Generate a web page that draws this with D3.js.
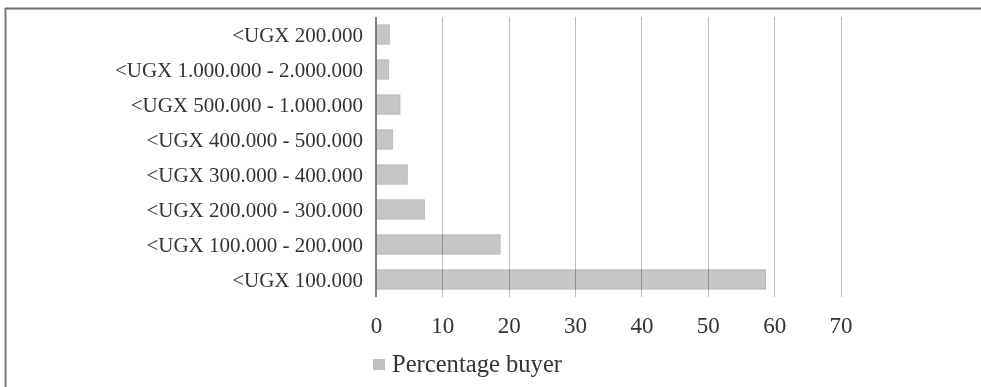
<!DOCTYPE html>
<html>
<head>
<meta charset="utf-8">
<script src="https://cdn.jsdelivr.net/npm/d3@7"></script>
<style>
  html, body { margin: 0; padding: 0; background: #fff; }
  svg { display: block; font-family: "Liberation Serif", "Times New Roman", serif; }
</style>
</head>
<body>
<svg id="chart" width="981" height="387"></svg>
<script>
// Income bands, listed top to bottom as shown on the chart
const categories = [
  "<UGX 200.000",
  "<UGX 1.000.000 - 2.000.000",
  "<UGX 500.000 - 1.000.000",
  "<UGX 400.000 - 500.000",
  "<UGX 300.000 - 400.000",
  "<UGX 200.000 - 300.000",
  "<UGX 100.000 - 200.000",
  "<UGX 100.000"
];
// Share of buyers (%) in each band
const percentageBuyer = [2.0, 1.9, 3.6, 2.5, 4.7, 7.3, 18.7, 58.7];
const xTicks = [0, 10, 20, 30, 40, 50, 60, 70];
const seriesName = "Percentage buyer";

const svg = d3.select("#chart");

const plotLeft = 376, plotTop = 17, plotBottom = 297;

const x = d3.scaleLinear().domain([0, 70]).range([plotLeft, 840.5]);
const y = d3.scaleBand().domain(categories).range([plotTop, plotBottom])
  .paddingInner(0.45).paddingOuter(0.225);

// Frame: top and left edges
svg.append("line").attr("x1", 5).attr("x2", 981).attr("y1", 8.5).attr("y2", 8.5)
  .attr("stroke", "#6e6e6e").attr("stroke-width", 2);
svg.append("line").attr("x1", 5.5).attr("x2", 5.5).attr("y1", 8).attr("y2", 387)
  .attr("stroke", "#7a7a7a").attr("stroke-width", 2);

// Bars
svg.append("g").selectAll("rect")
  .data(categories.map((c, i) => ({ c, v: percentageBuyer[i] })))
  .join("rect")
  .attr("x", x(0))
  .attr("y", d => y(d.c))
  .attr("width", d => x(d.v) - x(0))
  .attr("height", y.bandwidth())
  .attr("fill", "#c6c6c6")
  .attr("stroke", "#bababa")
  .attr("stroke-width", 1);

// Vertical gridlines, blended so they darken where they cross bars
svg.append("g").style("mix-blend-mode", "multiply")
  .selectAll("line")
  .data(xTicks.filter(t => t > 0))
  .join("line")
  .attr("x1", d => Math.round(x(d)) + 0.5)
  .attr("x2", d => Math.round(x(d)) + 0.5)
  .attr("y1", plotTop)
  .attr("y2", plotBottom)
  .attr("stroke", "#bcbcbc")
  .attr("stroke-width", 1);

// Category axis line
svg.append("line")
  .attr("x1", x(0)).attr("x2", x(0))
  .attr("y1", plotTop).attr("y2", plotBottom)
  .attr("stroke", "#707070").attr("stroke-width", 1.8);

// Category labels
const yAxis = d3.axisLeft(y).tickSize(0).tickPadding(13);
const yg = svg.append("g").attr("transform", `translate(${x(0)},0)`).call(yAxis);
yg.select(".domain").remove();
yg.selectAll("text")
  .attr("font-family", "Liberation Serif, Times New Roman, serif")
  .attr("font-size", "21px")
  .attr("fill", "#333")
  .attr("dy", "0.38em");

// Value axis labels
const xAxis = d3.axisBottom(x).tickValues(xTicks).tickSize(0).tickPadding(0)
  .tickFormat(d3.format("d"));
const xg = svg.append("g").attr("transform", `translate(0,${plotBottom})`).call(xAxis);
xg.select(".domain").remove();
xg.selectAll("text")
  .attr("font-family", "Liberation Serif, Times New Roman, serif")
  .attr("font-size", "23px")
  .attr("fill", "#333")
  .attr("y", 36)
  .attr("dy", 0);

// Legend
const legend = svg.append("g").attr("transform", "translate(373,359)");
legend.append("rect").attr("width", 12).attr("height", 11).attr("fill", "#c0c0c0");
legend.append("text")
  .attr("x", 19).attr("y", 12.5)
  .attr("font-size", "24.6px")
  .attr("fill", "#333")
  .text(seriesName);
</script>
</body>
</html>
